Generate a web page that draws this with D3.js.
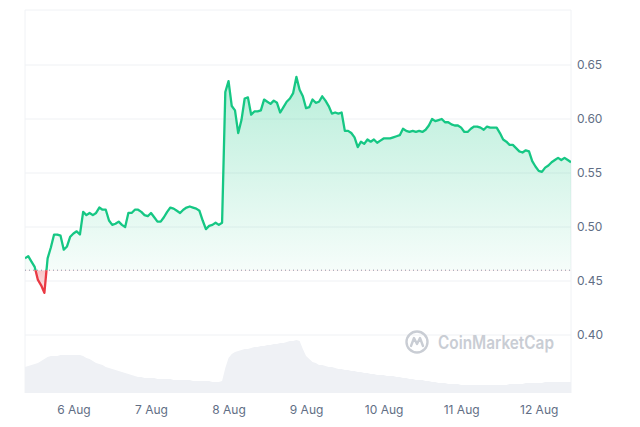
<!DOCTYPE html>
<html>
<head>
<meta charset="utf-8">
<script src="https://cdn.jsdelivr.net/npm/d3@7"></script>
<style>
  body { margin: 0; background: #fff; }
  svg { display: block; font-family: Inter, "Noto Sans", sans-serif; }
</style>
</head>
<body>
<svg width="640" height="427"></svg>
<script>
const width = 640;
const height = 427;

// hourly samples, starting 5 Aug 09:00 UTC
const startTime = Date.UTC(2023, 7, 5, 9);

const prices = [
  0.471, 0.473, 0.468, 0.463, 0.451, 0.446, 0.439, 0.471, 0.481, 0.493,
  0.493, 0.492, 0.479, 0.482, 0.491, 0.494, 0.496, 0.493, 0.514, 0.511,
  0.513, 0.511, 0.513, 0.518, 0.516, 0.516, 0.506, 0.502, 0.503, 0.505,
  0.502, 0.500, 0.513, 0.513, 0.516, 0.516, 0.514, 0.511, 0.510, 0.513,
  0.509, 0.505, 0.505, 0.509, 0.514, 0.518, 0.517, 0.515, 0.513, 0.516,
  0.518, 0.519, 0.518, 0.517, 0.515, 0.506, 0.498, 0.501, 0.502, 0.504,
  0.502, 0.504, 0.625, 0.635, 0.612, 0.608, 0.587, 0.599, 0.619, 0.620,
  0.604, 0.607, 0.607, 0.608, 0.618, 0.616, 0.614, 0.617, 0.615, 0.606,
  0.611, 0.616, 0.619, 0.624, 0.639, 0.627, 0.621, 0.610, 0.611, 0.618,
  0.615, 0.616, 0.621, 0.617, 0.612, 0.605, 0.606, 0.605, 0.606, 0.589,
  0.589, 0.587, 0.583, 0.574, 0.579, 0.577, 0.581, 0.579, 0.581, 0.578,
  0.580, 0.582, 0.582, 0.582, 0.583, 0.584, 0.585, 0.591, 0.589, 0.588,
  0.589, 0.588, 0.589, 0.588, 0.590, 0.594, 0.600, 0.598, 0.599, 0.600,
  0.597, 0.597, 0.595, 0.594, 0.594, 0.592, 0.588, 0.588, 0.591, 0.593,
  0.593, 0.592, 0.590, 0.593, 0.592, 0.592, 0.592, 0.587, 0.581, 0.579,
  0.576, 0.576, 0.573, 0.570, 0.569, 0.571, 0.570, 0.561, 0.556, 0.552,
  0.551, 0.555, 0.557, 0.560, 0.562, 0.564, 0.562, 0.564, 0.562, 0.560
];

// volume in millions USD, same hours
const volumes = [
  26, 27, 28, 29, 30, 32, 34, 36, 37, 37,
  37, 38, 38, 38, 38, 38, 38, 38, 37, 35,
  34, 32, 30, 29, 28, 26, 25, 24, 23, 22,
  21, 20, 19, 18, 17, 16, 16, 15, 15, 15,
  15, 14, 14, 14, 14, 14, 13, 13, 13, 13,
  13, 13, 12, 12, 12, 12, 12, 12, 11, 11,
  11, 12, 25, 35, 39, 41, 42, 43, 44, 44,
  45, 46, 46, 47, 47, 48, 48, 49, 49, 50,
  50, 51, 52, 52, 53, 52, 44, 37, 34, 31,
  30, 28, 28, 27, 26, 26, 25, 24, 24, 23,
  23, 22, 22, 21, 21, 20, 20, 19, 19, 18,
  18, 18, 17, 17, 17, 16, 16, 15, 15, 14,
  14, 13, 13, 13, 12, 12, 11, 11, 10, 10,
  10, 9, 9, 9, 9, 8, 8, 8, 8, 8,
  8, 8, 8, 8, 8, 8, 8, 8, 8, 8,
  9, 9, 9, 9, 9, 10, 10, 10, 10, 10,
  10, 11, 11, 11, 11, 11, 11, 11, 11, 11
];

const baseline = 0.46;
const yTicks = [0.40, 0.45, 0.50, 0.55, 0.60, 0.65];

const data = prices.map((p, i) => ({
  date: new Date(startTime + i * 3600 * 1000),
  price: p,
  volume: volumes[i]
}));

const green = "#16c784";
const red = "#ea3943";

const plot = { left: 25, right: 571, top: 10, bottom: 393 };

const svg = d3.select("svg");

const x = d3.scaleUtc()
  .domain(d3.extent(data, d => d.date))
  .range([plot.left, plot.right]);

const y = d3.scaleLinear()
  .domain([0.40, 0.65])
  .range([335, 65]);

const yVol = d3.scaleLinear()
  .domain([0, 100])
  .range([plot.bottom, plot.bottom - 100]);

const defs = svg.append("defs");

const gGrad = defs.append("linearGradient")
  .attr("id", "greenFill")
  .attr("gradientUnits", "userSpaceOnUse")
  .attr("x1", 0).attr("x2", 0)
  .attr("y1", y(0.64)).attr("y2", y(baseline));
gGrad.append("stop").attr("offset", 0).attr("stop-color", green).attr("stop-opacity", 0.3);
gGrad.append("stop").attr("offset", 1).attr("stop-color", green).attr("stop-opacity", 0.04);

const rGrad = defs.append("linearGradient")
  .attr("id", "redFill")
  .attr("gradientUnits", "userSpaceOnUse")
  .attr("x1", 0).attr("x2", 0)
  .attr("y1", y(baseline)).attr("y2", y(0.435));
rGrad.append("stop").attr("offset", 0).attr("stop-color", red).attr("stop-opacity", 0.3);
rGrad.append("stop").attr("offset", 1).attr("stop-color", red).attr("stop-opacity", 0.08);

defs.append("clipPath").attr("id", "above")
  .append("rect")
  .attr("x", plot.left).attr("y", 0)
  .attr("width", plot.right - plot.left).attr("height", y(baseline));

defs.append("clipPath").attr("id", "below")
  .append("rect")
  .attr("x", plot.left).attr("y", y(baseline))
  .attr("width", plot.right - plot.left).attr("height", height - y(baseline));

// grid lines
svg.append("g")
  .selectAll("line")
  .data(yTicks)
  .enter()
  .append("line")
  .attr("x1", plot.left)
  .attr("x2", plot.right)
  .attr("y1", d => y(d))
  .attr("y2", d => y(d))
  .attr("stroke", "#eff1f4")
  .attr("stroke-width", 1);

// frame
svg.append("path")
  .attr("d", `M${plot.left},${plot.bottom}V${plot.top}H${plot.right}V${plot.bottom}`)
  .attr("fill", "none")
  .attr("stroke", "#f0f2f5")
  .attr("stroke-width", 1);

// volume
const volArea = d3.area()
  .x(d => x(d.date))
  .y0(plot.bottom)
  .y1(d => yVol(d.volume));

svg.append("path")
  .datum(data)
  .attr("fill", "#eff1f5")
  .attr("d", volArea);

// watermark
const wm = svg.append("g")
  .attr("transform", "translate(417, 342)")
  .attr("fill", "none")
  .attr("stroke", "#c9cdd4")
  .attr("stroke-width", 2.4);
wm.append("circle").attr("r", 10.5);
wm.append("path")
  .attr("d", "M-6,4 L-3,-4 L0,2 L3,-4 L6,4")
  .attr("stroke-linejoin", "round")
  .attr("stroke-linecap", "round");
svg.append("text")
  .attr("x", 438)
  .attr("y", 349)
  .attr("font-size", "18px")
  .attr("font-weight", 600)
  .attr("fill", "#c9cdd4")
  .attr("textLength", 116)
  .attr("lengthAdjust", "spacingAndGlyphs")
  .text("CoinMarketCap");

// price fill
const priceArea = d3.area()
  .x(d => x(d.date))
  .y0(y(baseline))
  .y1(d => y(d.price));

svg.append("path")
  .datum(data)
  .attr("clip-path", "url(#above)")
  .attr("fill", "url(#greenFill)")
  .attr("d", priceArea);

svg.append("path")
  .datum(data)
  .attr("clip-path", "url(#below)")
  .attr("fill", "url(#redFill)")
  .attr("d", priceArea);

// baseline
svg.append("line")
  .attr("x1", plot.left)
  .attr("x2", plot.right)
  .attr("y1", y(baseline))
  .attr("y2", y(baseline))
  .attr("stroke", "#8a93a6")
  .attr("stroke-width", 1)
  .attr("stroke-dasharray", "1,3");

// price line
const priceLine = d3.line()
  .x(d => x(d.date))
  .y(d => y(d.price));

svg.append("path")
  .datum(data)
  .attr("clip-path", "url(#above)")
  .attr("fill", "none")
  .attr("stroke", green)
  .attr("stroke-width", 2.3)
  .attr("stroke-linejoin", "round")
  .attr("d", priceLine);

svg.append("path")
  .datum(data)
  .attr("clip-path", "url(#below)")
  .attr("fill", "none")
  .attr("stroke", red)
  .attr("stroke-width", 2.3)
  .attr("stroke-linejoin", "round")
  .attr("d", priceLine);

// axes
const yAxis = svg.append("g")
  .attr("transform", `translate(${plot.right},0)`)
  .call(d3.axisRight(y).tickValues(yTicks).tickFormat(d3.format(".2f")).tickSize(0).tickPadding(6));
yAxis.select(".domain").remove();
yAxis.selectAll("text")
  .attr("font-size", "12px")
  .attr("font-family", "Inter, sans-serif")
  .attr("fill", "#616e85");

const xAxis = svg.append("g")
  .attr("transform", `translate(0,${plot.bottom})`)
  .call(d3.axisBottom(x).ticks(d3.utcDay.every(1)).tickFormat(d3.utcFormat("%-d Aug")).tickSize(0).tickPadding(12));
xAxis.select(".domain").remove();
xAxis.selectAll("text")
  .attr("font-size", "12px")
  .attr("font-family", "Inter, sans-serif")
  .attr("fill", "#616e85");
</script>
</body>
</html>
